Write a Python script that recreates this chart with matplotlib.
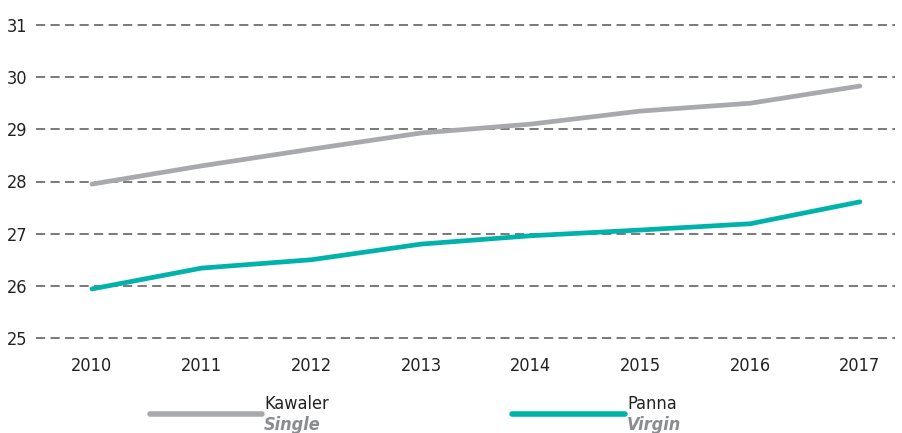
import matplotlib
matplotlib.use("Agg")
import matplotlib.pyplot as plt
from matplotlib.lines import Line2D

years = [2010, 2011, 2012, 2013, 2014, 2015, 2016, 2017]
kawaler = [27.95, 28.30, 28.62, 28.93, 29.10, 29.35, 29.50, 29.83]
panna = [25.94, 26.34, 26.50, 26.80, 26.96, 27.07, 27.19, 27.61]
yticks = [25, 26, 27, 28, 29, 30, 31]

gray = "#a7a9ac"
teal = "#00b2a9"

plt.rcParams['font.family'] = ['Liberation Sans Narrow', 'DejaVu Sans']
plt.rcParams['font.stretch'] = 'condensed'

fig = plt.figure(figsize=(9.02, 4.33), dpi=100)
ax = fig.add_axes([36/902, 1-338/433, (895-36)/902, (338-25)/433])

for v in yticks:
  ax.axhline(v, color="#555555", lw=1.1, ls=(0, (6, 3.5)), zorder=1, clip_on=False)

ax.plot(years, kawaler, color=gray, lw=3.4, solid_capstyle="round", zorder=3)
ax.plot(years, panna, color=teal, lw=3.4, solid_capstyle="round", zorder=3)

ax.set_ylim(25, 31)
ax.set_xlim(2009.49, 2017.32)
ax.set_yticks(yticks)
ax.set_xticks(years)
ax.tick_params(length=0, labelsize=13, colors="#222222")
ax.tick_params(axis="y", pad=6)
ax.tick_params(axis="x", pad=14)
for s in ax.spines.values():
  s.set_visible(False)

# legend drawn by hand in figure coords
def legend_item(x0, x1, color, label, sub):
  fig.add_artist(Line2D([x0/902, x1/902], [1-414/433, 1-414/433], color=color, lw=4, solid_capstyle="round"))
  fig.text((x1+2)/902, 1-404/433, label, fontsize=13, color="#222222", va="center")
  fig.text((x1+2)/902, 1-425/433, sub, fontsize=13, color="#8a8c8f", va="center", style="italic", weight="bold")

legend_item(150, 262, gray, "Kawaler", "Single")
legend_item(512, 625, teal, "Panna", "Virgin")

fig.savefig("out.png", dpi=100)
